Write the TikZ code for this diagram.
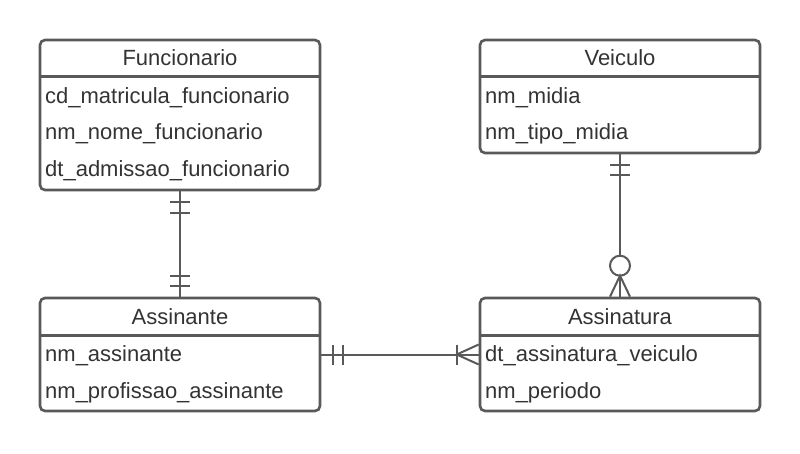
\documentclass[tikz,border=0pt]{standalone}
\usepackage{fontspec}
\setmainfont{Liberation Sans}
\usetikzlibrary{calc}

\definecolor{linegray}{HTML}{595959}
\definecolor{textgray}{HTML}{333333}

\tikzset{
  entity/.style={draw=linegray, line width=2.6pt, rounded corners=5pt, minimum width=280pt, inner sep=0pt},
  title/.style={text=textgray, inner sep=0pt, font=\fontsize{22}{26}\selectfont},
  field/.style={text=textgray, inner sep=0pt, anchor=west, font=\fontsize{22}{26}\selectfont},
  link/.style={draw=linegray, line width=2pt}
}

\begin{document}
\begin{tikzpicture}[x=1pt, y=-1pt]
\useasboundingbox (0,0) rectangle (800,453);

% Funcionario
\node [entity, minimum height=150pt] (fun) at ( 180, 115 ) {};
\draw [linegray, line width=2.6pt] (fun.north west) ++( 0, 38 ) -- ++( 280, 0 );
\node [title] (funT) at ( 180, 57.5 ) {Funcionario};
\node [field] (fun1) at ( 45, 97.5 ) {cd\_matricula\_funcionario};
\node [field] (fun2) at ( 45, 134 ) {nm\_nome\_funcionario};
\node [field] (fun3) at ( 45, 171 ) {dt\_admissao\_funcionario};

% Veiculo
\node [entity, minimum height=113pt] (vei) at ( 620, 96.5 ) {};
\draw [linegray, line width=2.6pt] (vei.north west) ++( 0, 38 ) -- ++( 280, 0 );
\node [title] (veiT) at ( 620, 57.5 ) {Veiculo};
\node [field] (vei1) at ( 485, 97.5 ) {nm\_midia};
\node [field] (vei2) at ( 485, 134 ) {nm\_tipo\_midia};

% Assinante
\node [entity, minimum height=113pt] (asn) at ( 180, 354.5 ) {};
\draw [linegray, line width=2.6pt] (asn.north west) ++( 0, 39 ) -- ++( 280, 0 );
\node [title] (asnT) at ( 180, 316.5 ) {Assinante};
\node [field] (asn1) at ( 45, 355.5 ) {nm\_assinante};
\node [field] (asn2) at ( 45, 392.5 ) {nm\_profissao\_assinante};

% Assinatura
\node [entity, minimum height=113pt] (asg) at ( 620, 354.5 ) {};
\draw [linegray, line width=2.6pt] (asg.north west) ++( 0, 39 ) -- ++( 280, 0 );
\node [title] (asgT) at ( 620, 316.5 ) {Assinatura};
\node [field] (asg1) at ( 485, 355.5 ) {dt\_assinatura\_veiculo};
\node [field] (asg2) at ( 485, 392.5 ) {nm\_periodo};

% Funcionario -- Assinante (one and only one)
\draw [link] (fun.south) -- (asn.north);
\draw [link] ($(fun.south) + (-10, 11)$) -- ++( 20, 0 );
\draw [link] ($(fun.south) + (-10, 22)$) -- ++( 20, 0 );
\draw [link] ($(asn.north) + (-10, -11)$) -- ++( 20, 0 );
\draw [link] ($(asn.north) + (-10, -21)$) -- ++( 20, 0 );

% Veiculo -- Assinatura (zero or many)
\coordinate (circ) at ($(asg.north) + (0, -31)$);
\draw [link] (vei.south) -- ($(circ) + (0, -10)$);
\draw [link] ($(vei.south) + (-10, 11)$) -- ++( 20, 0 );
\draw [link] ($(vei.south) + (-10, 21)$) -- ++( 20, 0 );
\draw [link] (circ) circle ( 10 );
\draw [link] ($(asg.north) + (-10, 0)$) -- ($(circ) + (0, 10)$) -- ($(asg.north) + (10, 0)$);
\draw [link] ($(circ) + (0, 10)$) -- (asg.north);

% Assinante -- Assinatura (one or many)
\draw [link] (asn.east) -- (asg.west);
\draw [link] ($(asn.east) + (12, -10)$) -- ++( 0, 20 );
\draw [link] ($(asn.east) + (22, -10)$) -- ++( 0, 20 );
\draw [link] ($(asg.west) + (-22, -10)$) -- ++( 0, 20 );
\draw [link] ($(asg.west) + (0, -10)$) -- ($(asg.west) + (-22, 0)$) -- ($(asg.west) + (0, 10)$);

\end{tikzpicture}
\end{document}
